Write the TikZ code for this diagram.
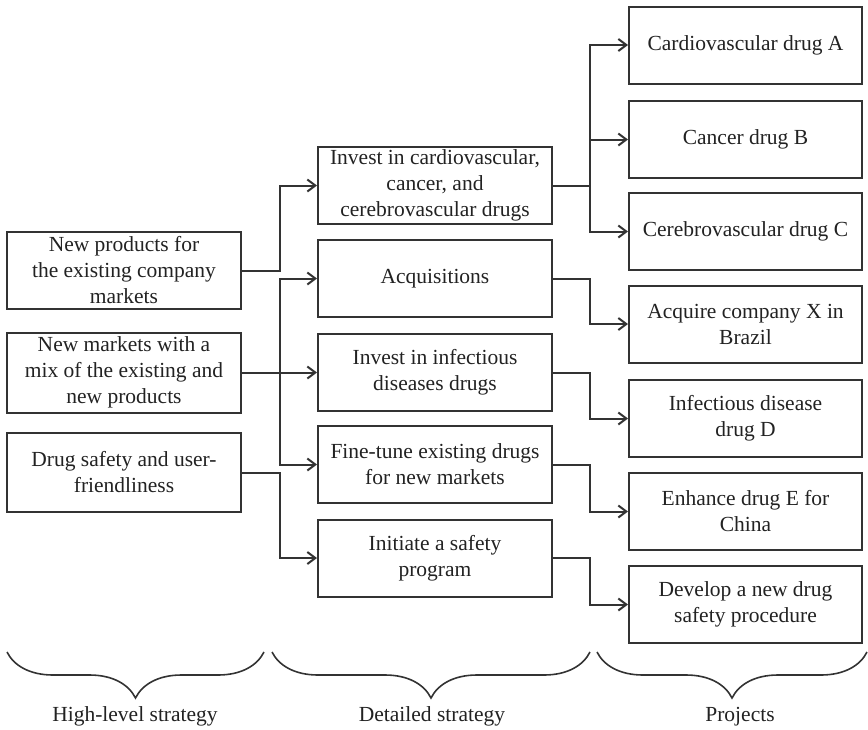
\documentclass[tikz,border=0pt]{standalone}
\usepackage{fontspec}
\setmainfont{Liberation Serif}
\usetikzlibrary{arrows.meta,decorations.pathreplacing}
\definecolor{ink}{HTML}{333333}
\definecolor{txt}{HTML}{222222}
\begin{document}
\begin{tikzpicture}[x=1pt,y=-1pt,
  card/.style={draw=ink, line width=2pt, minimum width=234pt, minimum height=77pt,
    inner sep=0pt, align=center, text=txt, font=\fontsize{21.5}{26}\selectfont},
  link/.style={draw=ink, line width=2pt,
    -{Straight Barb[length=8pt,width=12pt,line width=2pt]}},
  group/.style={draw=ink, line width=1.6pt, decorate,
    decoration={brace, amplitude=46pt}},
  caption/.style={text=txt, font=\fontsize{21.5}{26}\selectfont, anchor=base}]
\useasboundingbox (0,0) rectangle (868,729);

% high-level strategy
\node[card] (L1) at (124,270.5) {New products for\\the existing company\\markets};
\node[card, minimum height=80pt] (L2) at (124,372.5) {New markets with a\\mix of the existing and\\new products};
\node[card, minimum height=79pt] (L3) at (124,472.5) {Drug safety and user-\\friendliness};

% detailed strategy
\node[card] (M1) at (435,185.5) {Invest in cardiovascular,\\cancer, and\\cerebrovascular drugs};
\node[card] (M2) at (435,278.5) {Acquisitions};
\node[card] (M3) at (435,372.5) {Invest in infectious\\diseases drugs};
\node[card] (M4) at (435,464.5) {Fine-tune existing drugs\\for new markets};
\node[card] (M5) at (435,558) {Initiate a safety\\program};

% projects
\node[card, minimum width=233pt] (R1) at (745.5,45) {Cardiovascular drug A};
\node[card, minimum width=233pt] (R2) at (745.5,139.5) {Cancer drug B};
\node[card, minimum width=233pt] (R3) at (745.5,231.5) {Cerebrovascular drug C};
\node[card, minimum width=233pt] (R4) at (745.5,324) {Acquire company X in\\Brazil};
\node[card, minimum width=233pt] (R5) at (745.5,418.5) {Infectious disease\\drug D};
\node[card, minimum width=233pt] (R6) at (745.5,511.5) {Enhance drug E for\\China};
\node[card, minimum width=233pt] (R7) at (745.5,604.5) {Develop a new drug\\safety procedure};

% vertical trunks of the connectors
\coordinate (ta) at (280,0);
\coordinate (tb) at (590,0);

% strategy -> detailed strategy
\draw[link] (L1.east) -- (L1.east -| ta) |- (M1.west);
\draw[link] (L2.east) -- (M3.west);
\draw[link] (L2.east -| ta) |- (M2.west);
\draw[link] (L2.east -| ta) |- (M4.west);
\draw[link] (L3.east) -- (L3.east -| ta) |- (M5.west);

% detailed strategy -> projects
\draw[link] (M1.east) -- (M1.east -| tb) |- (R1.west);
\draw[link] (M1.east -| tb) |- (R2.west);
\draw[link] (M1.east -| tb) |- (R3.west);
\draw[link] (M2.east) -- (M2.east -| tb) |- (R4.west);
\draw[link] (M3.east) -- (M3.east -| tb) |- (R5.west);
\draw[link] (M4.east) -- (M4.east -| tb) |- (R6.west);
\draw[link] (M5.east) -- (M5.east -| tb) |- (R7.west);

% column braces and captions
\draw[group] (264,652) -- (7,652);
\draw[group] (590,652) -- (272,652);
\draw[group] (867,652) -- (597,652);
\node[caption] (c1) at (135,721) {High-level strategy};
\node[caption] (c2) at (432,721) {Detailed strategy};
\node[caption] (c3) at (740,721) {Projects};
\end{tikzpicture}
\end{document}
